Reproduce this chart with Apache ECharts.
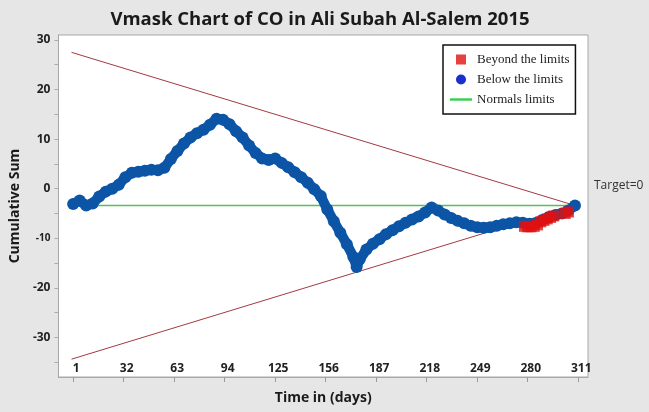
<!DOCTYPE html>
<html>
<head>
<meta charset="utf-8">
<script src="https://cdn.jsdelivr.net/npm/echarts@6/dist/echarts.min.js"></script>
<style>
  html, body { margin: 0; padding: 0; background: #e6e6e6; }
  #chart { width: 649px; height: 412px; }
</style>
</head>
<body>
<div id="chart"></div>
<script>
// days (x) and cumulative sum
var days = [1, 5, 9, 13, 17, 21, 25, 29, 33, 37, 41, 45, 49, 53, 57, 61, 65, 69, 73, 77,
  81, 85, 89, 93, 97, 101, 105, 109, 113, 117, 121, 125, 129, 133, 137, 141, 145, 149, 153, 157,
  161, 165, 169, 173, 175, 177, 181, 185, 189, 193, 197, 201, 205, 209, 213, 217, 221, 225, 229, 233,
  237, 241, 245, 249, 253, 257, 261, 265, 269, 273, 277, 281, 285, 289, 293, 297, 301, 305, 309];
var cusum = [-3.1, -2.4, -3.4, -3.0, -1.6, -0.6, 0.0, 0.8, 2.3, 3.2, 3.4, 3.6, 3.8, 3.7, 4.2, 6.0, 7.6, 9.1, 10.3, 11.2,
  11.9, 12.9, 14.1, 13.9, 13.0, 11.6, 10.3, 8.7, 7.2, 6.1, 5.8, 6.1, 5.2, 4.3, 3.3, 2.3, 1.2, -0.1, -1.5, -4.2,
  -6.6, -8.9, -11.2, -13.8, -15.8, -14.2, -12.3, -11.1, -10.2, -9.2, -8.4, -7.6, -6.9, -6.2, -5.6, -4.8, -3.8, -4.4, -5.2, -5.9,
  -6.5, -7.0, -7.5, -7.8, -7.9, -7.8, -7.5, -7.2, -7.0, -6.8, -6.9, -7.1, -7.0, -6.3, -5.7, -5.3, -5.0, -4.4, -3.4];

// points beyond the limits
var beyondDays = [278, 280, 282, 284, 286, 288, 290, 292, 294, 296, 303, 305];
var beyondVals = [-7.6, -7.7, -7.7, -7.6, -7.3, -6.7, -6.4, -6.1, -5.8, -5.5, -5.0, -4.7];

// V-mask arms and centre line
var maskDays = [0, 309];
var maskUpper = [27.5, -3.4];
var maskLower = [-34.4, -3.4];
var normalLine = [-3.4, -3.4];
var normalDays = [1, 309];

var xTicks = [1, 32, 63, 94, 125, 156, 187, 218, 249, 280, 311];
var yLabels = [-30, -20, -10, 0, 10, 20, 30];
var yTicks = [-35, -30, -25, -20, -15, -10, -5, 0, 5, 10, 15, 20, 25, 30];

function pairs(xs, ys) {
  return xs.map(function (x, i) { return [x, ys[i]]; });
}

var chart = echarts.init(document.getElementById('chart'));
chart.setOption({
  backgroundColor: '#e6e6e6',
  animation: false,
  title: {
    text: 'Vmask Chart of CO in Ali Subah Al-Salem 2015',
    left: 315,
    textAlign: 'center',
    top: 5,
    textStyle: { fontFamily: 'Open Sans', fontWeight: 'bold', fontSize: 18.5, color: '#1a1a1a' }
  },
  legend: {
    orient: 'vertical',
    left: 443,
    top: 45,
    padding: [8, 6, 8, 7],
    itemGap: 7,
    itemWidth: 22,
    itemHeight: 10,
    backgroundColor: '#fff',
    borderColor: '#111',
    borderWidth: 1.5,
    textStyle: { fontFamily: 'Liberation Serif', fontSize: 13, color: '#222' },
    data: [
      { name: 'Beyond the limits', icon: 'path://M0,0H10V10H0Z', itemStyle: { color: '#e01010' } },
      { name: 'Below the limits', icon: 'circle', itemStyle: { color: '#1a2fd0' } },
      { name: 'Normals limits', icon: 'path://M0,0H22V2.4H0Z', itemStyle: { color: '#33d04a' } }
    ]
  },
  grid: {
    left: 51, right: 61, top: 35, bottom: 35,
    show: true, backgroundColor: '#fff', borderColor: '#a8a8a8', borderWidth: 1
  },
  graphic: [{
    type: 'text', left: 594, top: 180,
    style: { text: 'Target=0', fontFamily: 'Open Sans', fontSize: 12, fill: '#333' }
  }],
  xAxis: {
    type: 'value', min: -8, max: 317,
    name: 'Time in (days)', nameLocation: 'middle', nameGap: 14,
    nameTextStyle: { fontFamily: 'Open Sans', fontWeight: 'bold', fontSize: 14, color: '#1a1a1a' },
    axisLine: { show: true, onZero: false, lineStyle: { color: '#a8a8a8' } },
    axisTick: { show: true, customValues: xTicks, length: 5, lineStyle: { color: '#999' } },
    axisLabel: {
      inside: true, margin: 2, customValues: xTicks, padding: [0, 0, 0, 6],
      fontFamily: 'Open Sans', fontWeight: 'bold', fontSize: 12, color: '#222'
    },
    splitLine: { show: false }
  },
  yAxis: {
    type: 'value', min: -38, max: 31,
    name: 'Cumulative Sum', nameLocation: 'middle', nameGap: 34,
    nameTextStyle: { fontFamily: 'Open Sans', fontWeight: 'bold', fontSize: 14, color: '#1a1a1a' },
    axisLine: { show: true, onZero: false, lineStyle: { color: '#a8a8a8' } },
    axisTick: { show: true, customValues: yTicks, length: 4, lineStyle: { color: '#aaa' } },
    axisLabel: {
      customValues: yLabels, margin: 8,
      fontFamily: 'Open Sans', fontWeight: 'bold', fontSize: 12, color: '#222',
      formatter: function (v) { return v === -10 ? '{s|-10}' : String(v); },
      rich: { s: { fontFamily: 'Open Sans', fontWeight: 'bold', fontSize: 10, color: '#222' } }
    },
    splitLine: { show: false }
  },
  series: [
    {
      name: 'maskUpper', type: 'line', data: pairs(maskDays, maskUpper),
      symbol: 'none', lineStyle: { color: '#a33a3e', width: 1 }, silent: true, z: 1
    },
    {
      name: 'maskLower', type: 'line', data: pairs(maskDays, maskLower),
      symbol: 'none', lineStyle: { color: '#a33a3e', width: 1 }, silent: true, z: 1
    },
    {
      name: 'Normals limits', type: 'line', data: pairs(normalDays, normalLine),
      symbol: 'none', itemStyle: { color: '#55c05a' }, lineStyle: { color: '#55c05a', width: 1.5 }, z: 2
    },
    {
      name: 'Below the limits', type: 'line', data: pairs(days, cusum),
      symbol: 'circle', symbolSize: 12, showAllSymbol: true,
      itemStyle: { color: '#0c55a6' }, lineStyle: { color: '#0c55a6', width: 10 }, z: 3
    },
    {
      name: 'Beyond the limits', type: 'scatter', data: pairs(beyondDays, beyondVals),
      symbol: 'rect', symbolSize: 11, itemStyle: { color: '#e01010' }, z: 4
    }
  ]
});
</script>
</body>
</html>
